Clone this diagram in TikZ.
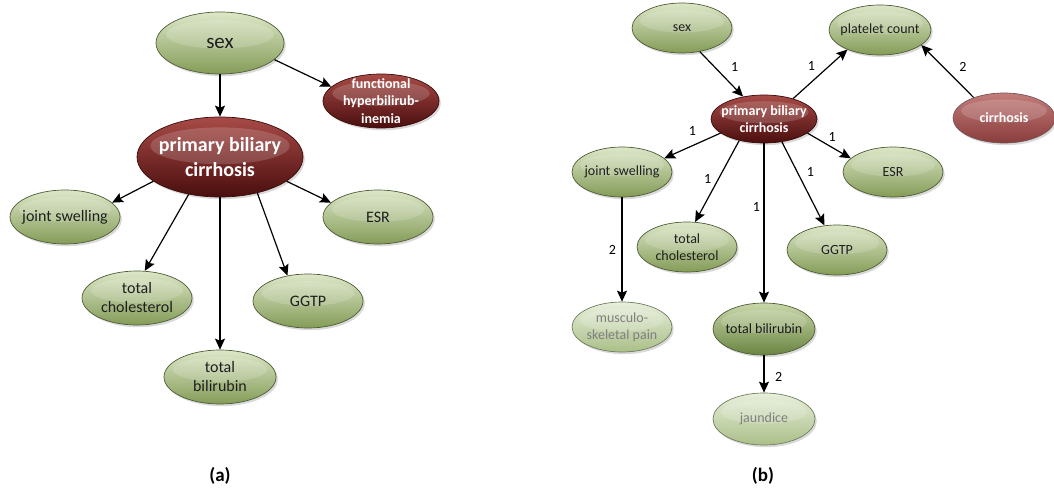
\documentclass[tikz,border=0pt]{standalone}
\usepackage{fontspec}
\setmainfont{Carlito}
\usetikzlibrary{arrows.meta,shadows,calc,shapes.geometric}

\definecolor{gtop}{HTML}{DDE7C8}
\definecolor{gbot}{HTML}{849C58}
\definecolor{gline}{HTML}{4E5C35}
\definecolor{ltop}{HTML}{E8EFDC}
\definecolor{lbot}{HTML}{AABF88}
\definecolor{dtop}{HTML}{C9D7AA}
\definecolor{dbot}{HTML}{6A8542}
\definecolor{rtop}{HTML}{A84B47}
\definecolor{rbot}{HTML}{4A0E0E}
\definecolor{rline}{HTML}{3A0A0A}
\definecolor{ptop}{HTML}{C27E7B}
\definecolor{pbot}{HTML}{8A3C3C}
\definecolor{greytext}{HTML}{7F7F7F}

\tikzset{
  bubble/.style={ellipse, inner xsep=-30pt, inner ysep=-12pt, align=center,
    line width=0.7pt,
    drop shadow={shadow xshift=1.8pt, shadow yshift=-2.2pt, opacity=0.3},
    path picture={
      \fill[white, opacity=0.16]
        let \p1=(path picture bounding box.south west),
            \p2=(path picture bounding box.north east) in
        ({(\x1+\x2)/2},{\y1+0.64*(\y2-\y1)})
        ellipse [x radius={0.42*(\x2-\x1)}, y radius={0.23*(\y2-\y1)}];
    }},
  gnode/.style={bubble, draw=gline, top color=gtop, bottom color=gbot, text=black!88},
  pnode/.style={bubble, draw=gline!80, top color=ltop, bottom color=lbot, text=greytext},
  dnode/.style={bubble, draw=gline, top color=dtop, bottom color=dbot, text=black!90},
  rnode/.style={bubble, draw=rline, top color=rtop, bottom color=rbot, text=white, font=\bfseries},
  rosenode/.style={bubble, draw=rline!70, top color=ptop, bottom color=pbot, text=white, font=\bfseries},
  size/.style 2 args={minimum width=#1, minimum height=#2},
  big/.style={font=\fontsize{16}{19}\selectfont},
  small/.style={font=\fontsize{14}{17}\selectfont},
  arr/.style={line width=1.2pt, -{Stealth[length=11pt, width=10pt, inset=2pt]}},
  lbl/.style={inner sep=0pt, font=\fontsize{14}{16}\selectfont},
  panelcap/.style={font=\fontsize{19}{21}\selectfont\bfseries}
}

\begin{document}
\begin{tikzpicture}[x=1pt, y=-1pt]
\useasboundingbox (0,0) rectangle (1054,489);

% ---------- panel (a) ----------
\node[gnode, size={128pt}{62pt}, font=\fontsize{21}{24}\selectfont] (sexA) at (220,43) {sex};
\node[rnode, size={116pt}{54pt}, font=\fontsize{14}{17.5}\selectfont\bfseries] (fhA) at (381,101)
  {functional\\hyperbilirub-\\inemia};
\node[rnode, size={166pt}{80pt}, font=\fontsize{20}{25}\selectfont\bfseries] (pbcA) at (220,157)
  {primary biliary\\cirrhosis};
\node[gnode, big, size={110pt}{54pt}] (jsA) at (65,217) {joint swelling};
\node[gnode, big, size={110pt}{54pt}] (tcA) at (137,298) {total\\cholesterol};
\node[gnode, big, size={112pt}{54pt}] (tbA) at (220,377) {total\\bilirubin};
\node[gnode, big, size={110pt}{54pt}] (ggA) at (308,301) {GGTP};
\node[gnode, big, size={110pt}{54pt}] (esrA) at (378,217) {ESR};

\draw[arr] (sexA.south) -- (pbcA.north);
\draw[arr] (sexA.-17) -- (fhA.164);
\draw[arr] (pbcA.200) -- (jsA.17);
\draw[arr] (pbcA.230) -- (tcA.74);
\draw[arr] (pbcA.south) -- (tbA.north);
\draw[arr] (pbcA.316) -- (ggA.129);
\draw[arr] (pbcA.340) -- (esrA.163);

\node[panelcap] (capA) at (220,476) {(a)};

% ---------- panel (b) ----------
\node[gnode, small, size={100pt}{50pt}] (sexB) at (682,28) {sex};
\node[gnode, small, size={102pt}{50pt}] (pltB) at (880,30) {platelet count};
\node[rnode, size={106pt}{48pt}, font=\fontsize{14}{17}\selectfont\bfseries] (pbcB) at (764,119)
  {primary biliary\\cirrhosis};
\node[rosenode, size={102pt}{50pt}, font=\fontsize{14}{17}\selectfont\bfseries] (cirB) at (1004,118) {cirrhosis};
\node[gnode, small, size={100pt}{50pt}] (jsB) at (622,172) {joint swelling};
\node[gnode, small, size={100pt}{50pt}] (esrB) at (893,172) {ESR};
\node[gnode, small, size={100pt}{50pt}] (tcB) at (687,247) {total\\cholesterol};
\node[gnode, small, size={100pt}{50pt}] (ggB) at (837,250) {GGTP};
\node[pnode, small, size={100pt}{50pt}] (mspB) at (622,327) {musculo-\\skeletal pain};
\node[dnode, small, size={102pt}{52pt}] (tbB) at (764,329) {total bilirubin};
\node[pnode, small, size={102pt}{52pt}] (jauB) at (764,419) {jaundice};

\draw[arr] (sexB.307) -- node[lbl, pos=.35, right=15.5pt] {1} (pbcB.133);
\draw[arr] (pbcB.35) -- node[lbl, pos=.66, left=13.5pt] {1} (pltB.211);
\draw[arr] (cirB.146) -- node[lbl, pos=.58, right=15.5pt] {2} (pltB.340);
\draw[arr] (pbcB.198) -- node[lbl, pos=.5, above=10pt] {1} (jsB.18);
\draw[arr] (pbcB.221.5) -- node[lbl, pos=.475, left=6.5pt] {1} (tcB.72);
\draw[arr] (pbcB.south) -- node[lbl, pos=.4, left=3.5pt] {1} (tbB.north);
\draw[arr] (pbcB.308) -- node[lbl, pos=.36, right=9pt] {1} (ggB.117);
\draw[arr] (pbcB.342) -- node[lbl, pos=.5, above=3.5pt, xshift=3pt] {1} (esrB.162);
\draw[arr] (jsB.south) -- node[lbl, pos=.5, left=5.5pt] {2} (mspB.north);
\draw[arr] (tbB.south) -- node[lbl, pos=.58, right=10.5pt] {2} (jauB.north);

\node[panelcap] (capB) at (763,476) {(b)};
\end{tikzpicture}
\end{document}
